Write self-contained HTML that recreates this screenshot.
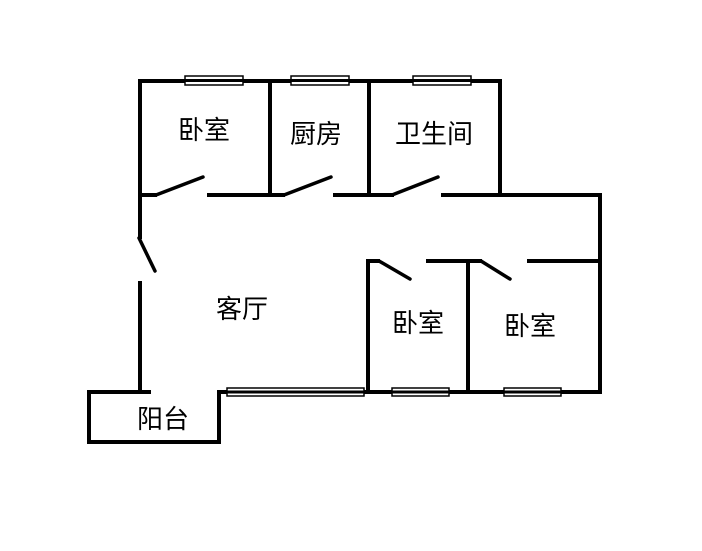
<!DOCTYPE html>
<html><head><meta charset="utf-8"><style>
html,body{margin:0;padding:0;background:#fff;}
svg text{font-family:"Liberation Sans","Noto Sans CJK SC",sans-serif;font-size:26px;fill:#000;text-anchor:middle;}
</style></head><body>
<svg width="702" height="546" viewBox="0 0 702 546" xmlns="http://www.w3.org/2000/svg">
<g stroke="#000" stroke-width="4" fill="none" stroke-linecap="square">
<polyline points="140,237 140,81 500,81 500,195"/>
<line x1="270" y1="81" x2="270" y2="195"/>
<line x1="369" y1="81" x2="369" y2="195"/>
<line x1="140" y1="195" x2="155" y2="195"/>
<line x1="209" y1="195" x2="283" y2="195"/>
<line x1="335" y1="195" x2="392" y2="195"/>
<line x1="443" y1="195" x2="600" y2="195"/>
<line x1="600" y1="195" x2="600" y2="392"/>
<line x1="140" y1="283" x2="140" y2="392"/>
<polyline points="149,392 89,392 89,442 219,442 219,392 226,392"/>
<line x1="226" y1="392" x2="600" y2="392"/>
<line x1="368" y1="261" x2="368" y2="392"/>
<line x1="468" y1="261" x2="468" y2="392"/>
<line x1="368" y1="261" x2="378" y2="261"/>
<line x1="428" y1="261" x2="480" y2="261"/>
<line x1="529" y1="261" x2="600" y2="261"/>
</g>
<g stroke="#000" stroke-width="3.5" stroke-linecap="round">
<line x1="156" y1="195" x2="203" y2="177"/>
<line x1="284" y1="195" x2="331" y2="177"/>
<line x1="392" y1="195" x2="438" y2="177"/>
<line x1="139" y1="238" x2="155" y2="271"/>
<line x1="379" y1="261" x2="410" y2="279"/>
<line x1="481" y1="261" x2="510" y2="279"/>
</g>
<g stroke="#000" stroke-width="1.5" fill="#fff">
<rect x="185" y="76" width="58" height="9"/>
<rect x="291" y="76" width="58" height="9"/>
<rect x="413" y="76" width="58" height="9"/>
<rect x="227" y="388" width="137" height="8"/>
<rect x="392" y="388" width="57" height="8"/>
<rect x="504" y="388" width="57" height="8"/>
</g>
<g stroke="#000" stroke-width="3">
<line x1="185" y1="80.5" x2="243" y2="80.5"/>
<line x1="291" y1="80.5" x2="349" y2="80.5"/>
<line x1="413" y1="80.5" x2="471" y2="80.5"/>
<line x1="227" y1="392" x2="364" y2="392"/>
<line x1="392" y1="392" x2="449" y2="392"/>
<line x1="504" y1="392" x2="561" y2="392"/>
</g>
<text x="204" y="139">卧室</text>
<text x="316" y="143">厨房</text>
<text x="434" y="143">卫生间</text>
<text x="242" y="318">客厅</text>
<text x="418" y="332">卧室</text>
<text x="530" y="335">卧室</text>
<text x="163" y="428">阳台</text>
</svg>
</body></html>
